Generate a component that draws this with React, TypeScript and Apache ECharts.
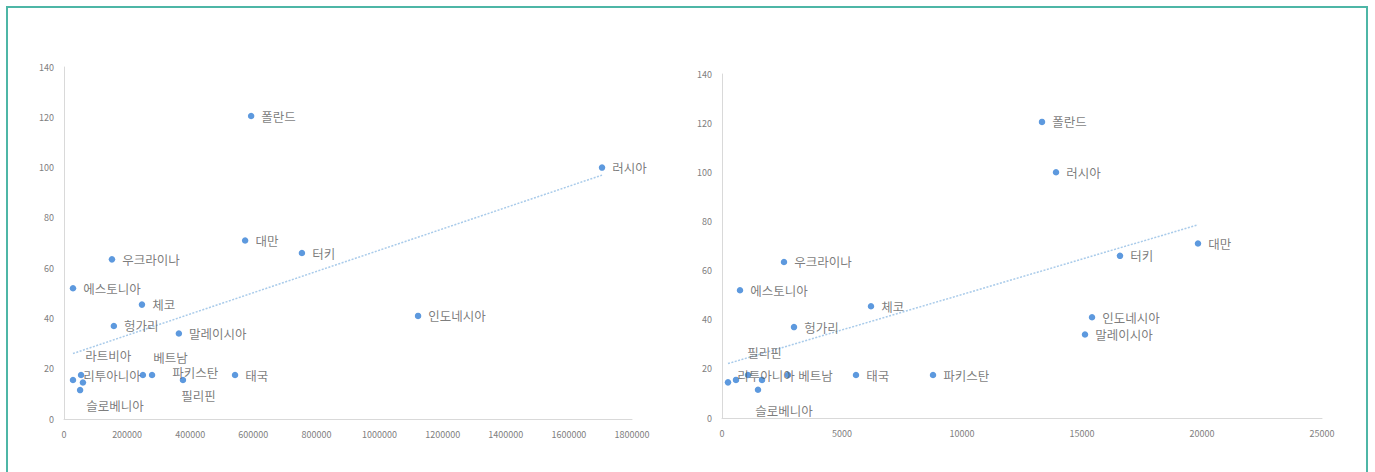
import React, { useEffect, useRef } from 'react';
import * as echarts from 'echarts';

// Countries (one unlabeled point near the origin)
const countries = ['폴란드', '러시아', '대만', '터키', '우크라이나', '에스토니아', '체코', '인도네시아', '헝가리', '말레이시아', '태국', '필리핀', '베트남', '파키스탄', '라트비아', '리투아니아', '', '슬로베니아'];
// Left chart x values
const leftX = [593000, 1705000, 574000, 754000, 152000, 28500, 247000, 1122000, 158000, 364000, 542000, 377000, 250000, 279000, 28500, 54000, 60000, 51000];
// Right chart x values
const rightX = [13333, 13917, 19833, 16583, 2583, 750, 6208, 15417, 3000, 15125, 5583, 1667, 2750, 8792, 583, 1083, 250, 1500];
// Shared y values
const yVals = [120.5, 100, 71, 66, 63.5, 52, 45.5, 41, 37, 34, 17.5, 15.5, 17.5, 17.5, 15.5, 17.5, 14.5, 11.5];

const leftXTicks = { min: 0, max: 1800000, interval: 200000 };
const rightXTicks = { min: 0, max: 25000, interval: 5000 };
const yTicks = { min: 0, max: 140, interval: 20 };

// label placement tweaks (layout, not data): dx/dy shifts from default right-side placement
const leftLabelTweaks: Record<string, { dx: number; dy: number }> = {
  '라트비아': { dx: 2, dy: -25 },
  '베트남': { dx: 0, dy: -18 },
  '파키스탄': { dx: 10, dy: -3 },
  '필리핀': { dx: -12, dy: 15 },
  '슬로베니아': { dx: -4, dy: 15 },
  '리투아니아': { dx: -8, dy: 0 },
};
const rightLabelTweaks: Record<string, { dx: number; dy: number }> = {
  '필리핀': { dx: -25, dy: -27 },
  '리투아니아': { dx: -21, dy: 0 },
  '슬로베니아': { dx: -13, dy: 21 },
};
const rightHidden = ['라트비아'];

function regression(xs: number[], ys: number[]) {
  const n = xs.length;
  const mx = xs.reduce((a, b) => a + b, 0) / n;
  const my = ys.reduce((a, b) => a + b, 0) / n;
  let sxy = 0, sxx = 0;
  for (let i = 0; i < n; i++) {
    sxy += (xs[i] - mx) * (ys[i] - my);
    sxx += (xs[i] - mx) * (xs[i] - mx);
  }
  const slope = sxy / sxx;
  const icpt = my - slope * mx;
  const x0 = Math.min(...xs);
  const x1 = Math.max(...xs);
  return [[x0, icpt + slope * x0], [x1, icpt + slope * x1]];
}

const FONT = '"Noto Sans CJK KR", "Noto Sans", sans-serif';
const DOT = '#3480d6';

function buildPoints(xs: number[], hidden: string[]) {
  return countries.map((name, i) => ({
    name,
    value: [xs[i], yVals[i]],
    label: { show: name !== '' && hidden.indexOf(name) < 0 },
  }));
}

function axisCommon(gridIndex: number) {
  return {
    gridIndex,
    type: 'value',
    axisLine: { show: true, lineStyle: { color: '#d9d9d9', width: 1 } },
    axisTick: { show: false },
    splitLine: { show: false },
    axisLabel: { color: '#808080', fontSize: 9, fontFamily: FONT, formatter: (v: number) => String(v) },
  };
}

function layoutFn(tweaks: Record<string, { dx: number; dy: number }>) {
  return (params: any) => {
    const name = countries[params.dataIndex];
    const t = tweaks[name];
    if (!t) return {};
    return { dx: t.dx, dy: t.dy };
  };
}

export default function App() {
  const ref = useRef<HTMLDivElement>(null);
  useEffect(() => {
    document.body.style.margin = '0';
    if (!ref.current) return;
    const chart = echarts.init(ref.current, undefined, { renderer: 'svg' });
    const scatterLabel = {
      show: true,
      position: 'right',
      distance: 7,
      formatter: '{b}',
      color: '#5a5a5a',
      fontSize: 12.5,
      lineHeight: 14,
      fontFamily: FONT,
    };
    const option: any = {
      animation: false,
      backgroundColor: '#ffffff',
      graphic: [
        {
          type: 'rect',
          shape: { x: 7, y: 7, width: 1360, height: 520 },
          style: { fill: 'none', stroke: '#4db6a6', lineWidth: 2 },
          silent: true,
        },
      ],
      grid: [
        { left: 64, top: 67, width: 568, height: 352 },
        { left: 722, top: 74, width: 600, height: 344 },
      ],
      xAxis: [
        { ...axisCommon(0), ...leftXTicks, axisLabel: { ...axisCommon(0).axisLabel, margin: 11 } },
        { ...axisCommon(1), ...rightXTicks, axisLabel: { ...axisCommon(1).axisLabel, margin: 11 } },
      ],
      yAxis: [
        { ...axisCommon(0), ...yTicks, axisLabel: { ...axisCommon(0).axisLabel, margin: 10 } },
        { ...axisCommon(1), ...yTicks, axisLabel: { ...axisCommon(1).axisLabel, margin: 10 } },
      ],
      series: [
        {
          type: 'line',
          xAxisIndex: 0,
          yAxisIndex: 0,
          data: regression(leftX, yVals),
          symbol: 'none',
          lineStyle: { color: '#a9cbea', width: 1.5, type: [2, 1.5] },
          silent: true,
          z: 1,
        },
        {
          type: 'line',
          xAxisIndex: 1,
          yAxisIndex: 1,
          data: regression(rightX, yVals),
          symbol: 'none',
          lineStyle: { color: '#a9cbea', width: 1.5, type: [2, 1.5] },
          silent: true,
          z: 1,
        },
        {
          type: 'scatter',
          xAxisIndex: 0,
          yAxisIndex: 0,
          symbolSize: 6.5,
          itemStyle: { color: DOT },
          label: scatterLabel,
          labelLayout: layoutFn(leftLabelTweaks),
          data: buildPoints(leftX, []),
          z: 3,
        },
        {
          type: 'scatter',
          xAxisIndex: 1,
          yAxisIndex: 1,
          symbolSize: 6.5,
          itemStyle: { color: DOT },
          label: scatterLabel,
          labelLayout: layoutFn(rightLabelTweaks),
          data: buildPoints(rightX, rightHidden),
          z: 3,
        },
      ],
    };
    chart.setOption(option);
    return () => chart.dispose();
  }, []);
  return <div ref={ref} style={{ width: 1375, height: 472 }} />;
}
